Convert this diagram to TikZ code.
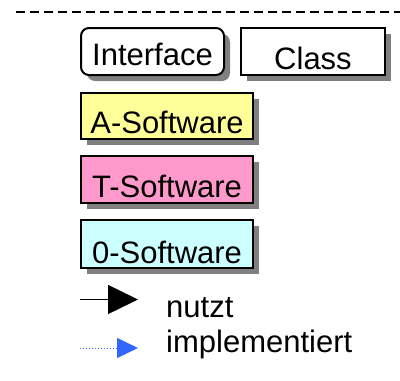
\documentclass[tikz,border=0pt]{standalone}
\usepackage{fontspec}
\setmainfont{Liberation Sans}
\usetikzlibrary{arrows.meta}
\definecolor{shadowgray}{HTML}{808080}
\definecolor{aYellow}{HTML}{FFFF99}
\definecolor{tPink}{HTML}{FF99CC}
\definecolor{oCyan}{HTML}{CCFFFF}
\definecolor{implBlue}{HTML}{3366FF}
\tikzset{
  legbox/.style={draw=black, line width=2pt, inner sep=0pt, text depth=0pt,
    font=\fontsize{31}{36}\selectfont,
    general shadow={fill=shadowgray, shadow xshift=6pt, shadow yshift=-6pt}},
  legtext/.style={inner sep=0pt, anchor=base west, font=\fontsize{31}{36}\selectfont},
}
\usetikzlibrary{shadows}
\begin{document}
\begin{tikzpicture}[x=1pt,y=-1pt]
\useasboundingbox (0,0) rectangle (400,381);
\coordinate (dl) at (16,12);
\coordinate (dr) at (400,12);
\draw[line width=2pt, dash pattern=on 9pt off 5pt] (dl) -- (dr);
\node[legbox, fill=white, rounded corners=8pt, minimum width=143pt, minimum height=47pt, text height=28pt] (iface) at (152.5,51.5) {Interface};
\node[legbox, fill=white, minimum width=144pt, minimum height=47pt, text height=36pt] (cls) at (313,51.5) {Class};
\node[legbox, fill=aYellow, minimum width=172pt, minimum height=46pt, text height=34pt] (asw) at (167,116) {A-Software};
\node[legbox, fill=tPink, minimum width=172pt, minimum height=47pt, text height=35pt] (tsw) at (167,179.5) {T-Software};
\node[legbox, fill=oCyan, minimum width=172pt, minimum height=48pt, text height=39pt] (osw) at (167,243.5) {0-Software};
\coordinate (n1) at (80,299.5);
\coordinate (n2) at (138,299.5);
\draw[line width=1.5pt, -{Triangle[length=30pt,width=29pt]}] (n1) -- (n2);
\node[legtext] (nutzt) at (166,317) {nutzt};
\coordinate (i1) at (80,348);
\coordinate (i2) at (138,348);
\draw[implBlue, line width=1pt, dotted, -{Triangle[length=21pt,width=20pt]}] (i1) -- (i2);
\node[legtext] (impl) at (166,352) {implementiert};
\end{tikzpicture}
\end{document}
